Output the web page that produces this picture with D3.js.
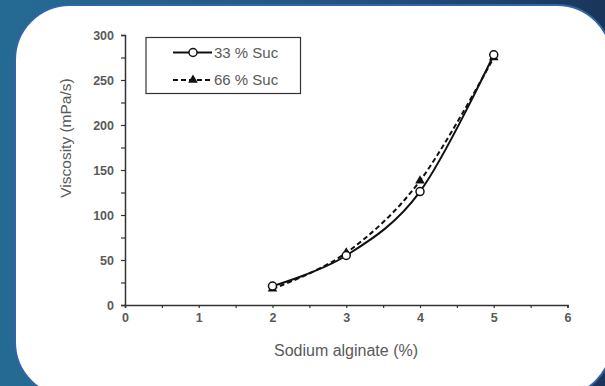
<!DOCTYPE html>
<html>
<head>
<meta charset="utf-8">
<script src="https://cdn.jsdelivr.net/npm/d3@7"></script>
<style>
html,body{margin:0;padding:0;background:#1f4f7a;}
svg{display:block;}
text{font-family:"Liberation Sans",Arial,sans-serif;}
</style>
</head>
<body>
<svg id="chart" width="605" height="386"></svg>
<script>
const xValues = [2, 3, 4, 5];
const suc33 = [21, 55, 126, 278];
const suc66 = [18, 58, 138, 275];
const seriesNames = ["33 % Suc", "66 % Suc"];
const xTicks = [0, 1, 2, 3, 4, 5, 6];
const yTicks = [0, 50, 100, 150, 200, 250, 300];
const xTitle = "Sodium alginate (%)";
const yTitle = "Viscosity (mPa/s)";

const svg = d3.select("#chart");
const W = 605, H = 386;

// background
const defs = svg.append("defs");
const grad = defs.append("linearGradient").attr("id","bg").attr("x1","0").attr("y1","0").attr("x2","1").attr("y2","0");
grad.append("stop").attr("offset","0").attr("stop-color","#256b94");
grad.append("stop").attr("offset","0.6").attr("stop-color","#215282");
grad.append("stop").attr("offset","1").attr("stop-color","#1b355a");
svg.append("rect").attr("width",W).attr("height",H).attr("fill","url(#bg)");
svg.append("rect").attr("x",15).attr("y",5).attr("width",597).attr("height",392)
  .attr("rx",55).attr("ry",55).attr("fill","#ffffff").attr("stroke","#3264a8").attr("stroke-width",2);

const x = d3.scaleLinear().domain([0,6]).range([125,567.5]);
const y = d3.scaleLinear().domain([0,300]).range([305,35]);

// y axis
const yAxis = svg.append("g").attr("transform",`translate(${x(0)},0)`)
  .call(d3.axisLeft(y).tickValues(d3.range(0,301,25)).tickSize(4).tickFormat(d => yTicks.includes(d) ? d : ""));
yAxis.select(".domain").attr("stroke","#333").attr("stroke-width",1.5);
yAxis.selectAll(".tick line").attr("stroke","#333").attr("stroke-width",1.2);
yAxis.selectAll(".tick text").attr("fill","#595959").attr("font-size",12.5).attr("font-weight","bold").attr("x",-11);

// x axis
const xAxis = svg.append("g").attr("transform",`translate(0,${y(0)})`)
  .call(d3.axisBottom(x).tickValues(d3.range(0,6.01,0.5)).tickSize(3).tickFormat(d => xTicks.includes(d) ? d : ""));
xAxis.select(".domain").attr("stroke","#333").attr("stroke-width",1.5);
xAxis.selectAll(".tick line").attr("stroke","#333").attr("stroke-width",1.2);
xAxis.selectAll(".tick text").attr("fill","#595959").attr("font-size",12.5).attr("font-weight","bold").attr("y",8);

// titles
svg.append("text").attr("x",346).attr("y",356).attr("text-anchor","middle")
  .attr("fill","#595959").attr("font-size",16).text(xTitle);
svg.append("text").attr("transform","translate(71,138) rotate(-90)").attr("text-anchor","middle")
  .attr("fill","#595959").attr("font-size",15.5).text(yTitle);

const line = d3.line().x(d => x(d[0])).y(d => y(d[1])).curve(d3.curveCardinal.tension(0));
const d33 = xValues.map((v,i) => [v, suc33[i]]);
const d66 = xValues.map((v,i) => [v, suc66[i]]);

svg.append("path").datum(d66).attr("d",line).attr("fill","none").attr("stroke","#111")
  .attr("stroke-width",2).attr("stroke-dasharray","5,3");
svg.append("path").datum(d33).attr("d",line).attr("fill","none").attr("stroke","#111")
  .attr("stroke-width",2);

const tri = d3.symbol().type(d3.symbolTriangle).size(40);
svg.selectAll(".m66").data(d66).join("path").attr("class","m66")
  .attr("transform",d => `translate(${x(d[0])},${y(d[1])})`).attr("d",tri).attr("fill","#111");
svg.selectAll(".m33").data(d33).join("circle").attr("class","m33")
  .attr("cx",d => x(d[0])).attr("cy",d => y(d[1])).attr("r",4)
  .attr("fill","#fff").attr("stroke","#111").attr("stroke-width",1.5);

// legend
const lg = svg.append("g");
lg.append("rect").attr("x",146).attr("y",37.5).attr("width",154.5).attr("height",56)
  .attr("fill","#fff").attr("stroke","#333").attr("stroke-width",1.2);
const ly = [52.5, 80];
lg.append("line").attr("x1",173).attr("x2",212).attr("y1",ly[0]).attr("y2",ly[0]).attr("stroke","#111").attr("stroke-width",2);
lg.append("circle").attr("cx",193).attr("cy",ly[0]).attr("r",4).attr("fill","#fff").attr("stroke","#111").attr("stroke-width",1.5);
lg.append("line").attr("x1",173).attr("x2",212).attr("y1",ly[1]).attr("y2",ly[1]).attr("stroke","#111").attr("stroke-width",2).attr("stroke-dasharray","5,3");
lg.append("path").attr("transform",`translate(193,${ly[1]})`).attr("d",tri).attr("fill","#111");
seriesNames.forEach((n,i) => {
  lg.append("text").attr("x",214).attr("y",ly[i]).attr("dy","0.35em")
    .attr("fill","#595959").attr("font-size",15).text(n);
});
</script>
</body>
</html>
